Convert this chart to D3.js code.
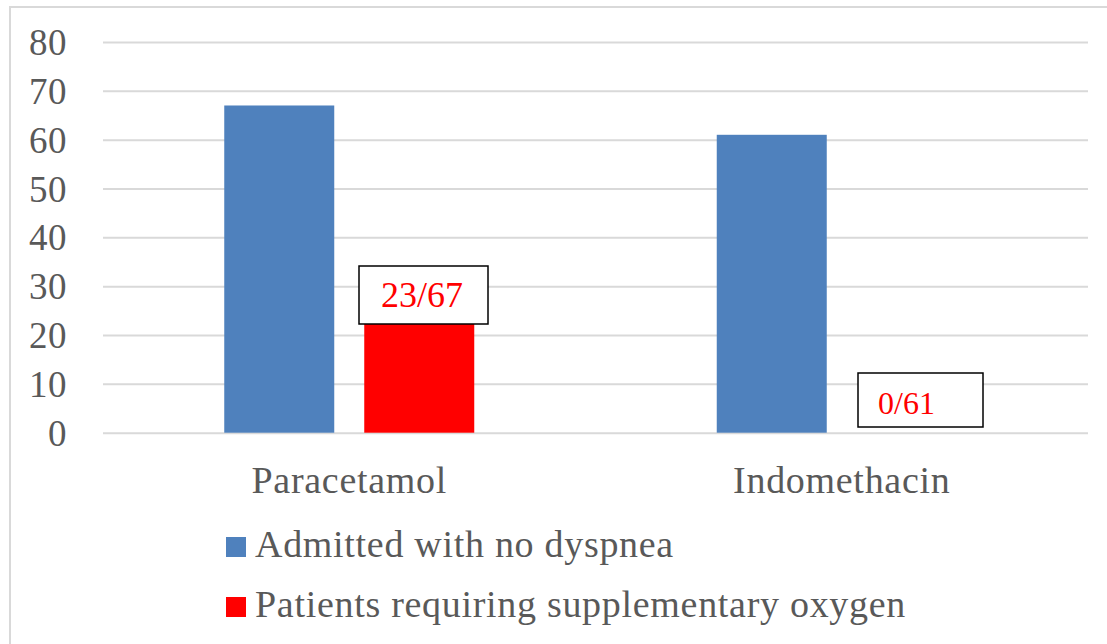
<!DOCTYPE html>
<html><head><meta charset="utf-8">
<script src="https://cdn.jsdelivr.net/npm/d3@7"></script>
<style>body{margin:0;background:#fff}svg{display:block}</style>
</head><body>
<svg id="c" width="1107" height="644"></svg>
<script>
const categories = ["Paracetamol", "Indomethacin"];
const seriesNames = ["Admitted with no dyspnea", "Patients requiring supplementary oxygen"];
const admitted = [67, 61];
const oxygen = [23, 0];
const oxygenLabels = ["23/67", "0/61"];
const yTicks = [0, 10, 20, 30, 40, 50, 60, 70, 80];
const colors = ["#4f81bd", "#ff0000"];

const svg = d3.select("#c");
const font = "'Liberation Serif', serif";
const grey = "#595959";

// chart border
svg.append("path").attr("d", "M10,644 V7 H1107").attr("fill", "none")
  .attr("stroke", "#d9d9d9").attr("stroke-width", 2);

const y = d3.scaleLinear().domain([0, 80]).range([432.7, 42]);
const pIn = 1 - 250 / 492.5;
const x0 = d3.scaleBand().domain(categories).range([103, 1088]).paddingInner(pIn).paddingOuter(pIn / 2);
const x1 = d3.scaleBand().domain(seriesNames).range([0, x0.bandwidth()]).paddingInner(30 / 140).paddingOuter(0);

// gridlines + y tick labels
const yAxis = d3.axisLeft(y).tickValues(yTicks).tickSize(-(1088 - 103)).tickPadding(36);
const gAxis = svg.append("g").attr("transform", "translate(103,0)").call(yAxis);
gAxis.select(".domain").remove();
gAxis.selectAll(".tick line").attr("stroke", "#d9d9d9").attr("stroke-width", 2);
gAxis.selectAll(".tick text").attr("fill", grey).attr("font-family", font).attr("font-size", 37)
  .attr("letter-spacing", 0.5).attr("dy", "0.34em");

// bars
const data = categories.map((c, i) => ({cat: c, vals: [admitted[i], oxygen[i]]}));
const groups = svg.append("g").selectAll("g").data(data).join("g")
  .attr("transform", d => `translate(${x0(d.cat)},0)`);
groups.selectAll("rect").data(d => d.vals.map((v, j) => ({s: seriesNames[j], v, j}))).join("rect")
  .attr("x", d => x1(d.s)).attr("width", x1.bandwidth())
  .attr("y", d => y(d.v)).attr("height", d => y(0) - y(d.v))
  .attr("fill", d => colors[d.j]);

// category labels
const xAxis = d3.axisBottom(x0).tickSize(0).tickPadding(0);
const gx = svg.append("g").attr("transform", `translate(0,${y(0)})`).call(xAxis);
gx.select(".domain").remove();
gx.selectAll(".tick text").attr("fill", grey).attr("font-family", font).attr("font-size", 38)
  .attr("letter-spacing", 0.7).attr("y", 60).attr("dy", 0);

// data label boxes
const boxes = [
  {i: 0, bx: 359, by: 266, bw: 129, bh: 58, tx: 422, anchor: "middle", ty: 307, fs: 36},
  {i: 1, bx: 858, by: 373, bw: 125, bh: 54, tx: 878, anchor: "start", ty: 414, fs: 32}
];
boxes.forEach(b => {
  svg.append("rect").attr("x", b.bx).attr("y", b.by).attr("width", b.bw).attr("height", b.bh)
    .attr("fill", "#fff").attr("stroke", "#000").attr("stroke-width", 1.5);
  svg.append("text").attr("x", b.tx).attr("y", b.ty).attr("text-anchor", b.anchor)
    .attr("fill", "#ff0000").attr("font-family", font).attr("font-size", b.fs).text(oxygenLabels[b.i]);
});

// legend
const leg = svg.append("g").selectAll("g").data(seriesNames).join("g")
  .attr("transform", (d, i) => `translate(226,${537 + i * 60})`);
leg.append("rect").attr("width", 20).attr("height", 20).attr("fill", (d, i) => colors[i]);
leg.append("text").attr("x", 29).attr("y", 20).attr("fill", grey).attr("font-family", font)
  .attr("font-size", 38).attr("letter-spacing", 0.7).text(d => d);
</script>
</body></html>
